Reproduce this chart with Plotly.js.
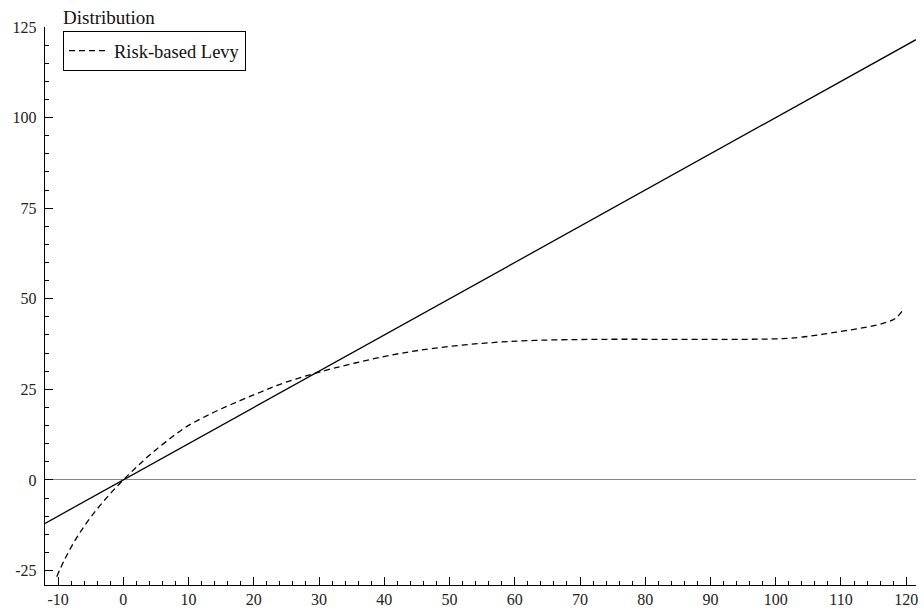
<!DOCTYPE html>
<html>
<head>
<meta charset="utf-8">
<script src="https://cdn.plot.ly/plotly-3.0.1.min.js"></script>
<style>html,body{margin:0;padding:0;background:#fff;}#chart{width:924px;height:611px;}</style>
</head>
<body>
<div id="chart"></div>
<script>
// Risk-based Levy (dashed curve)
const levyX = [-10.2, -9, -7.5, -6, -4, -2, 0, 2, 4, 6.5, 9.7, 13.8, 17.9, 21, 24.5, 28.6, 32.2, 37.3, 42.4, 47.5, 55, 63, 73, 85, 95, 101, 104, 109, 114, 117, 118.5, 119.7];
const levyY = [-26.7, -22.0, -17.0, -12.8, -8.0, -3.8, 0, 3.5, 6.8, 10.5, 14.7, 18.6, 21.9, 24.2, 26.7, 29.0, 30.8, 33.0, 34.9, 36.3, 37.7, 38.5, 38.8, 38.8, 38.8, 39.0, 39.4, 40.7, 42.2, 43.5, 44.8, 47.5];
// 45-degree reference line
const lineX = [-12, 121.5];
const lineY = [-12, 121.5];
// Tick values
const xTicks = [-10, 0, 10, 20, 30, 40, 50, 60, 70, 80, 90, 100, 110, 120];
const yTicks = [-25, 0, 25, 50, 75, 100, 125];

const font = 'Liberation Serif, Times New Roman, serif';

const traces = [
  {x: lineX, y: lineY, mode: 'lines', line: {color: '#000', width: 1.3}, showlegend: false, hoverinfo: 'skip'},
  {x: levyX, y: levyY, mode: 'lines', name: 'Risk-based Levy', line: {color: '#000', width: 1.3, dash: '6px,4px', shape: 'spline', smoothing: 1}}
];

const layout = {
  width: 924, height: 611,
  margin: {l: 45, r: 7.5, t: 27, b: 26},
  paper_bgcolor: '#fff', plot_bgcolor: '#fff',
  font: {family: font, size: 16, color: '#222'},
  title: {text: 'Distribution', x: 63/924, xanchor: 'left', y: 1 - 17/611, yanchor: 'middle', font: {family: font, size: 19, color: '#111'}},
  showlegend: true,
  legend: {x: 18/871.5, y: (585-31)/558, xanchor: 'left', yanchor: 'top', bordercolor: '#000', borderwidth: 1, bgcolor: 'rgba(255,255,255,0)', itemwidth: 40, font: {family: font, size: 18.5, color: '#111'}},
  xaxis: {
    range: [-12, 121.5], tickvals: xTicks, ticktext: xTicks.map(String),
    ticks: 'inside', ticklen: 8, tickcolor: '#000', tickwidth: 1,
    minor: {dtick: 2, ticks: 'inside', ticklen: 4, tickcolor: '#000', showgrid: false},
    showline: true, linecolor: '#000', linewidth: 1.2, showgrid: false, zeroline: false,
    tickfont: {family: font, size: 16, color: '#222'}
  },
  yaxis: {
    range: [-29, 125], tickvals: yTicks, ticktext: yTicks.map(String),
    ticks: 'inside', ticklen: 8, tickcolor: '#000', tickwidth: 1,
    minor: {dtick: 5, ticks: 'inside', ticklen: 4, tickcolor: '#000', showgrid: false},
    showline: true, linecolor: '#000', linewidth: 1.2, showgrid: false,
    zeroline: true, zerolinecolor: '#888', zerolinewidth: 1,
    tickfont: {family: font, size: 16, color: '#222'}, ticklabelstandoff: 4
  }
};

Plotly.newPlot('chart', traces, layout, {displayModeBar: false, staticPlot: true});
</script>
</body>
</html>
